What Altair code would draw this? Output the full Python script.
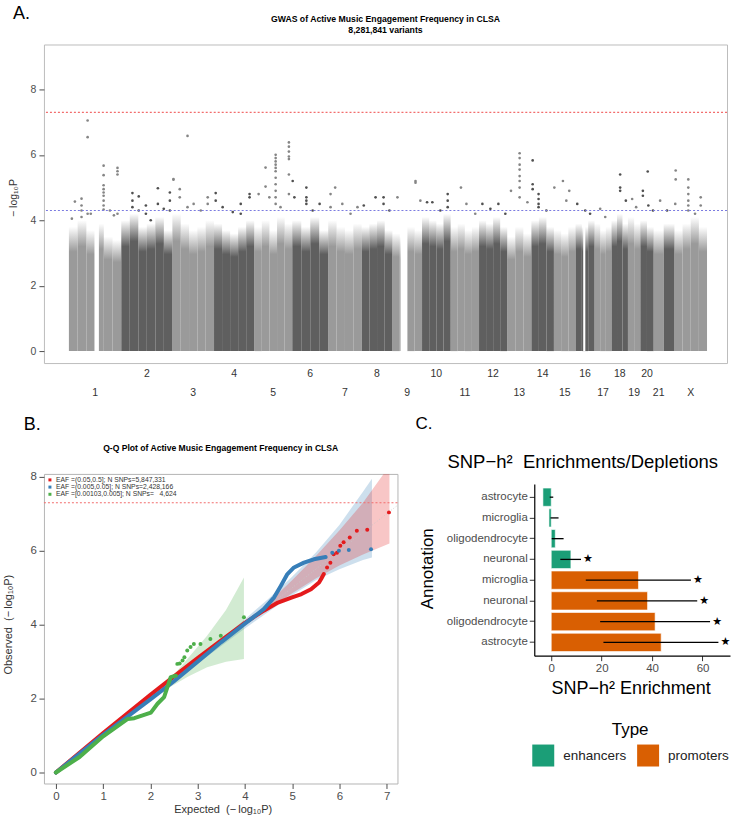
import altair as alt
import pandas as pd

FONT = "Liberation Sans"
SYMBOL_FONT = "DejaVu Sans"

# ================= Panel A: Manhattan plot =================
PANEL_A = "A."
MANHATTAN_TITLE = "GWAS of Active Music Engagement Frequency in CLSA"
MANHATTAN_SUBTITLE = "8,281,841 variants"
MANHATTAN_YTITLE = "\u2212 log\u2081\u2080P"
CHROMS = ["1", "2", "3", "4", "5", "6", "7", "8", "9", "10", "11", "12",
          "13", "14", "15", "16", "17", "18", "19", "20", "21", "22", "X"]
CHROM_LEN_MB = [249, 243, 198, 191, 181, 171, 159, 146, 141, 136, 135, 134,
                115, 107, 103, 90, 81, 78, 59, 63, 48, 51, 155]
CHROM_LABELS = ["1", "2", "3", "4", "5", "6", "7", "8", "9", "10", "11", "12",
                "13", "14", "15", "16", "17", "18", "19", "20", "21", "", "X"]
# upper edge of the dense cloud of SNPs, per chromosome sub-segment
CLOUD_TOPS = [
    [3.8, 4.0, 3.7, 3.9, 3.5, 3.4],
    [4.0, 4.2, 3.8, 3.9, 4.1, 3.7],
    [4.2, 3.9, 3.7, 3.8, 4.0],
    [3.9, 3.7, 3.6, 3.8, 4.0],
    [3.8, 4.0, 3.7, 4.1, 3.9],
    [4.0, 3.8, 4.1, 3.7],
    [4.0, 3.8, 3.7, 3.9],
    [3.8, 3.9, 4.0, 3.7],
    [3.6, 3.5, 3.8, 3.7],
    [4.1, 4.0, 3.9, 4.2],
    [3.8, 3.9, 3.7, 3.8],
    [4.0, 3.9, 4.1, 3.8],
    [3.5, 3.8, 3.6],
    [4.0, 4.1, 3.8],
    [3.7, 3.6, 3.8],
    [3.9, 3.8, 4.0],
    [3.9, 3.7, 3.8],
    [4.0, 4.2, 3.9],
    [4.1, 3.9],
    [4.0, 3.8],
    [3.7],
    [3.9],
    [3.7, 3.9, 4.1, 3.8],
]
GAP_CHROM = ["1", "9", "16"]
GAP_START_MB = [121.5, 38.8, 36.3]
GAP_END_MB = [142.6, 70.9, 46.4]
# (chromosome, position in Mb, -log10 P values of the SNPs standing out)
PEAKS = [
    ("1", 14, [4.05]), ("1", 28.5, [4.57]), ("1", 60, [4.66, 4.45, 4.3, 4.1]),
    ("1", 89, [7.05, 6.54, 4.2]), ("1", 104, [4.2]),
    ("1", 165, [5.67, 5.38, 5.07, 4.95, 4.85, 4.75, 4.6, 4.45, 4.33]),
    ("1", 195, [4.3]), ("1", 214, [4.15]), ("1", 231, [5.6, 5.5, 5.4, 4.2]),
    ("2", 53, [4.83, 4.6, 4.4]), ("2", 83, [4.73, 4.3]), ("2", 117, [4.45, 4.2]),
    ("2", 140, [4.0]), ("2", 174, [4.98, 4.5]), ("2", 202, [4.35]),
    ("2", 231, [4.85, 4.6, 4.3]),
    ("3", 5, [5.26, 5.24]), ("3", 35, [4.95, 4.7]), ("3", 72, [6.58, 4.4]),
    ("3", 101, [4.5]), ("3", 135, [4.3]), ("3", 168, [4.7, 4.5]),
    ("4", 8, [4.83, 4.6]), ("4", 41, [4.4]), ("4", 89, [4.25]),
    ("4", 127, [4.5, 4.2]), ("4", 169, [4.8, 4.7]),
    ("5", 21, [4.8]), ("5", 54, [5.61, 5.03]), ("5", 72, [4.7]),
    ("5", 102, [6.0, 5.9, 5.8, 5.7, 5.6, 5.5, 5.3, 5.1, 4.9, 4.7, 4.5]),
    ("5", 125, [4.4]), ("5", 165, [6.38, 6.25, 6.1, 5.95, 5.87, 5.4, 4.8]),
    ("6", 2, [5.2]), ("6", 10, [4.7]), ("6", 67, [5.0, 4.7, 4.6, 4.5]),
    ("6", 97, [4.3]), ("6", 130, [4.5]),
    ("7", 11, [4.8, 4.4]), ("7", 33, [5.0]), ("7", 67, [4.5]), ("7", 106, [4.2]),
    ("7", 139, [4.4]),
    ("8", 10, [4.45]), ("8", 66, [4.7]), ("8", 104, [4.7, 4.5]), ("8", 132, [4.3]),
    ("9", 24, [4.7]), ("9", 110, [5.2, 5.15]), ("9", 133, [4.6]),
    ("10", 24, [4.55]), ("10", 49, [4.55]), ("10", 87, [4.3]),
    ("10", 122, [4.8, 4.6, 4.4]),
    ("11", 49, [5.0]), ("11", 75, [4.5]), ("11", 117, [4.2]),
    ("12", 16, [4.5]), ("12", 54, [4.35]), ("12", 92, [4.5]), ("12", 125, [4.2]),
    ("13", 18, [4.9]), ("13", 59, [6.05, 5.9, 5.7, 5.55, 5.35, 5.2, 5.0, 4.7]),
    ("13", 96, [4.55]),
    ("14", 6, [5.83, 5.1, 4.95]), ("14", 34, [4.8, 4.65, 4.5, 4.4]), ("14", 71, [4.3]),
    ("15", 2, [5.0]), ("15", 43, [5.2]), ("15", 59, [4.6]), ("15", 73, [4.9]),
    ("16", 8, [4.5]), ("16", 46, [4.3]), ("16", 69, [4.2]),
    ("17", 27, [4.35]), ("17", 51, [4.1]),
    ("18", 41, [5.4, 5.0, 4.9]), ("18", 68, [4.6]),
    ("19", 20, [4.65]), ("19", 39, [4.4]),
    ("20", 12, [4.9, 4.75]), ("20", 35, [5.49]), ("20", 38, [4.45]), ("20", 60, [4.3]),
    ("21", 31, [4.6]), ("22", 16, [4.3]),
    ("X", 4, [4.5]), ("X", 6, [5.52, 5.25]), ("X", 66, [5.25, 5.0, 4.8, 4.6, 4.45, 4.3]),
    ("X", 98, [4.2]), ("X", 125, [4.7, 4.45]),
]
GENOME_WIDE = 7.3
SUGGESTIVE = 4.3

# ================= Panel B: Q-Q plot =================
PANEL_B = "B."
QQ_TITLE = "Q-Q Plot of Active Music Engagement Frequency in CLSA"
QQ_XTITLE = "Expected\u00a0\u00a0(\u2212\u2009log\u2081\u2080P)"
QQ_YTITLE = "Observed\u00a0\u00a0(\u2212\u2009log\u2081\u2080P)"
QQ_LABELS = ["EAF =(0.05,0.5]; N SNPs=5,847,331",
             "EAF =(0.005,0.05]; N SNPs=2,428,166",
             "EAF =[0.00103,0.005]; N SNPs=\u00a0\u00a0\u00a04,624"]
QQ_COLORS = ["#e41a1c", "#377eb8", "#4daf4a"]
DIAG = [0, 7.23]

RED_X = [0, 1.0, 2.0, 2.5, 3.0, 3.5, 4.0, 4.4, 4.7, 5.0, 5.2, 5.4, 5.57, 5.62, 5.67]
RED_Y = [0, 1.07, 2.1, 2.6, 3.1, 3.58, 4.05, 4.38, 4.6, 4.74, 4.83, 4.96, 5.14, 5.25, 5.37]
RED_PX = [5.74, 5.81, 5.88, 5.95, 6.02, 6.09, 6.22, 6.37, 6.59, 7.05]
RED_PY = [5.55, 5.68, 5.91, 5.95, 6.14, 6.23, 6.36, 6.54, 6.57, 7.04]
RED_BAND_X = [4.4, 5.0, 5.5, 6.0, 6.5, 7.06]
RED_BAND_LO = [4.33, 4.85, 5.25, 5.6, 5.9, 6.2]
RED_BAND_HI = [4.47, 5.2, 5.85, 6.55, 7.3, 8.3]

BLUE_X = [0, 1.0, 2.0, 2.5, 3.0, 3.5, 4.0, 4.4, 4.62, 4.76, 4.9, 5.04, 5.25, 5.46, 5.71]
BLUE_Y = [0, 1.02, 1.98, 2.47, 3.0, 3.53, 4.03, 4.42, 4.74, 5.05, 5.37, 5.55, 5.68, 5.77, 5.83]
BLUE_PX = [5.85, 5.99, 6.2, 6.67]
BLUE_PY = [5.95, 6.0, 6.02, 6.04]
BLUE_BAND_X = [3.0, 4.0, 4.5, 5.0, 5.5, 6.0, 6.5, 6.69]
BLUE_BAND_LO = [2.95, 3.9, 4.35, 4.8, 5.2, 5.5, 5.75, 5.82]
BLUE_BAND_HI = [3.05, 4.15, 4.7, 5.3, 5.95, 6.7, 7.6, 7.95]

GREEN_X = [0, 0.5, 1.0, 1.52, 1.66, 2.01, 2.15, 2.29, 2.36, 2.43, 2.54]
GREEN_Y = [0, 0.42, 0.98, 1.45, 1.47, 1.62, 1.86, 2.04, 2.31, 2.58, 2.62]
GREEN_PX = [2.57, 2.62, 2.68, 2.72, 2.78, 2.85, 2.92, 3.06, 3.27, 3.49, 3.98]
GREEN_PY = [2.94, 2.95, 3.03, 3.12, 3.30, 3.40, 3.48, 3.48, 3.61, 3.70, 4.20]
GREEN_BAND_X = [2.4, 2.8, 3.2, 3.6, 3.98]
GREEN_BAND_LO = [2.3, 2.6, 2.85, 3.0, 3.07]
GREEN_BAND_HI = [2.5, 3.1, 3.7, 4.4, 5.28]

# ================= Panel C: enrichment bars =================
PANEL_C = "C."
C_TITLE = "SNP\u2212h\u00b2\u00a0 Enrichments/Depletions"
C_XTITLE = "SNP\u2212h\u00b2 Enrichment"
C_YTITLE = "Annotation"
ANNOT = ["astrocyte", "microglia", "oligodendrocyte", "neuronal",
         "microglia", "neuronal", "oligodendrocyte", "astrocyte"]
ANNOT_TYPE = ["enhancers"] * 4 + ["promoters"] * 4
ENRICH = [-3.3, -0.9, 1.6, 7.8, 34.6, 38.2, 41.2, 43.6]
ERR_LO = [-0.6, -0.3, 0.2, 3.6, 13.7, 18.1, 19.4, 20.7]
ERR_HI = [0.8, 2.9, 4.9, 11.8, 55.4, 57.9, 63.0, 66.3]
SIGNIF = [False, False, False, True, True, True, True, True]
TYPES = ["enhancers", "promoters"]
TYPE_COLORS = ["#1b9e77", "#d95f02"]


def note(text, x, y, size, weight="normal", color="black", align="center",
         baseline="middle", angle=0, font=FONT):
    kw = dict(fontSize=size, fontWeight=weight, color=color, align=align,
              baseline=baseline, font=font)
    if angle:
        kw["angle"] = angle
    return alt.Chart(pd.DataFrame({"t": [text]})).mark_text(**kw).encode(
        x=alt.value(x), y=alt.value(y), text="t:N")


def fade(color, clear):
    return alt.LinearGradient(
        gradient="linear", x1=0, y1=1, x2=0, y2=0,
        stops=[alt.GradientStop(color=color, offset=0),
               alt.GradientStop(color=color, offset=0.8),
               alt.GradientStop(color=clear, offset=1)])


# ---------- build panel A ----------
W_A, H_A = 684, 319
offsets, acc = {}, 0
for c, L in zip(CHROMS, CHROM_LEN_MB):
    offsets[c] = acc
    acc += L
shade = {c: ("light" if i % 2 == 0 else "dark") for i, c in enumerate(CHROMS)}

seg_rows = []
for c, L, tops in zip(CHROMS, CHROM_LEN_MB, CLOUD_TOPS):
    n = len(tops)
    for i, t in enumerate(tops):
        seg_rows.append({"start": offsets[c] + L * i / n, "end": offsets[c] + L * (i + 1) / n,
                         "base": 0.0, "top": t, "shade": shade[c]})
seg_df = pd.DataFrame(seg_rows)

gap_df = pd.DataFrame({"start": [offsets[c] + s for c, s in zip(GAP_CHROM, GAP_START_MB)],
                       "end": [offsets[c] + e for c, e in zip(GAP_CHROM, GAP_END_MB)],
                       "base": 0.0, "top": 4.7})

pt_rows = []
for c, pos, vals in PEAKS:
    for v in vals:
        pt_rows.append({"pos": offsets[c] + pos, "p": v, "shade": shade[c]})
pt_df = pd.DataFrame(pt_rows)

lab_df = pd.DataFrame({"center": [offsets[c] + L / 2 for c, L in zip(CHROMS, CHROM_LEN_MB)],
                       "label": CHROM_LABELS,
                       "row": ["odd" if i % 2 == 0 else "even" for i in range(len(CHROMS))]})

xA = alt.Scale(domain=[-118.7, 3129.0], nice=False, zero=False)
yA = alt.Scale(domain=[-0.366, 9.374], nice=False, zero=False)
axis_yA = alt.Axis(values=[0, 2, 4, 6, 8], title=None, grid=False, domain=False,
                   tickColor="#4d4d4d", tickSize=5, labelFont=FONT, labelFontSize=10.5,
                   labelColor="#4d4d4d", labelPadding=3)
XA = lambda f: alt.X(f, scale=xA, axis=None)
YA = lambda f: alt.Y(f, scale=yA, axis=axis_yA)

bulk_light = alt.Chart(seg_df).transform_filter(alt.datum.shade == "light").mark_rect(
    color=fade("#9a9a9a", "rgba(154,154,154,0)")).encode(
    x=XA("start:Q"), x2="end:Q", y=YA("base:Q"), y2="top:Q")
bulk_dark = alt.Chart(seg_df).transform_filter(alt.datum.shade == "dark").mark_rect(
    color=fade("#5f5f5f", "rgba(95,95,95,0)")).encode(
    x=XA("start:Q"), x2="end:Q", y=YA("base:Q"), y2="top:Q")
gaps = alt.Chart(gap_df).mark_rect(color="white").encode(
    x=XA("start:Q"), x2="end:Q", y=YA("base:Q"), y2="top:Q")
points_A = alt.Chart(pt_df).mark_circle(size=7, opacity=1).encode(
    x=XA("pos:Q"), y=YA("p:Q"),
    color=alt.Color("shade:N", scale=alt.Scale(domain=["light", "dark"],
                                               range=["#858585", "#505050"]), legend=None))
gws_A = alt.Chart(pd.DataFrame({"y": [GENOME_WIDE]})).mark_rule(
    color="#f26d6d", strokeDash=[2, 2], strokeWidth=1.1).encode(y=YA("y:Q"))
sugg_A = alt.Chart(pd.DataFrame({"y": [SUGGESTIVE]})).mark_rule(
    color="#7b7be0", strokeDash=[2, 2], strokeWidth=1.1).encode(y=YA("y:Q"))
lab_even = alt.Chart(lab_df).transform_filter(alt.datum.row == "even").mark_text(
    font=FONT, fontSize=10.5, color="#333333").encode(
    x=XA("center:Q"), y=alt.value(H_A + 11), text="label:N")
lab_odd = alt.Chart(lab_df).transform_filter(alt.datum.row == "odd").mark_text(
    font=FONT, fontSize=10.5, color="#333333").encode(
    x=XA("center:Q"), y=alt.value(H_A + 30), text="label:N")
anchor = alt.Chart(pd.DataFrame({"a": [0]})).mark_rule(opacity=0).encode(
    x=alt.value(-43), x2=alt.value(-43), y=alt.value(-43), y2=alt.value(-41))

manhattan = alt.layer(
    bulk_light, bulk_dark, gaps, points_A, gws_A, sugg_A, lab_even, lab_odd,
    note(PANEL_A, -31, -30.5, 18, align="left"),
    note(MANHATTAN_TITLE, W_A / 2, -26, 8.7, weight="bold"),
    note(MANHATTAN_SUBTITLE, W_A / 2, -15, 8.7, weight="bold"),
    note(MANHATTAN_YTITLE, -29.7, 153.7, 10.5, color="#333333", angle=270),
    anchor,
).properties(width=W_A, height=H_A, view=alt.ViewBackground(stroke="#bdbdbd", strokeWidth=1))

# ---------- build panel B ----------
W_B, H_B = 354, 310
xB = alt.Scale(domain=[-0.2537, 7.23], nice=False, zero=False)
yB = alt.Scale(domain=[-0.297, 8.081], nice=False, zero=False)
axis_xB = alt.Axis(values=[0, 1, 2, 3, 4, 5, 6, 7], title=None, grid=False, domain=False,
                   tickColor="#4d4d4d", tickSize=5, labelFont=FONT, labelFontSize=11.5,
                   labelColor="#4d4d4d", labelPadding=2)
axis_yB = alt.Axis(values=[0, 2, 4, 6, 8], title=None, grid=False, domain=False,
                   tickColor="#4d4d4d", tickSize=5, labelFont=FONT, labelFontSize=11.5,
                   labelColor="#4d4d4d", labelPadding=2.5)
XB = lambda f: alt.X(f, scale=xB, axis=axis_xB)
YB = lambda f: alt.Y(f, scale=yB, axis=axis_yB)


def qq_band(xs, lo, hi, color):
    return alt.Chart(pd.DataFrame({"x": xs, "lo": lo, "hi": hi})).mark_area(
        color=color, opacity=0.25, clip=True).encode(x=XB("x:Q"), y=YB("lo:Q"), y2="hi:Q")


def qq_line(xs, ys, color):
    return alt.Chart(pd.DataFrame({"x": xs, "y": ys})).mark_line(
        color=color, strokeWidth=4, strokeCap="round", strokeJoin="round", clip=True).encode(
        x=XB("x:Q"), y=YB("y:Q"))


def qq_points(xs, ys, color):
    return alt.Chart(pd.DataFrame({"x": xs, "y": ys})).mark_circle(
        color=color, size=16, opacity=1, clip=True).encode(x=XB("x:Q"), y=YB("y:Q"))


diag = alt.Chart(pd.DataFrame({"x": DIAG, "y": DIAG})).mark_line(
    color="#c8c8c8", strokeDash=[1, 2], strokeWidth=0.8, clip=True).encode(x=XB("x:Q"), y=YB("y:Q"))
gws_B = alt.Chart(pd.DataFrame({"y": [GENOME_WIDE]})).mark_rule(
    color="#f26d6d", strokeDash=[2, 2], strokeWidth=1.1).encode(y=YB("y:Q"))

legend_B = []
for i, (lab, col) in enumerate(zip(QQ_LABELS, QQ_COLORS)):
    legend_B.append(alt.Chart(pd.DataFrame({"a": [0]})).mark_square(
        color=col, size=9, opacity=1).encode(x=alt.value(6), y=alt.value(6 + 7.2 * i)))
    legend_B.append(note(lab, 12, 6 + 7.2 * i, 6.8, color="#333333", align="left"))

qq = alt.layer(
    qq_band(BLUE_BAND_X, BLUE_BAND_LO, BLUE_BAND_HI, QQ_COLORS[1]),
    qq_band(GREEN_BAND_X, GREEN_BAND_LO, GREEN_BAND_HI, QQ_COLORS[2]),
    qq_band(RED_BAND_X, RED_BAND_LO, RED_BAND_HI, QQ_COLORS[0]),
    diag, gws_B,
    qq_line(RED_X, RED_Y, QQ_COLORS[0]),
    qq_line(BLUE_X, BLUE_Y, QQ_COLORS[1]),
    qq_line(GREEN_X, GREEN_Y, QQ_COLORS[2]),
    qq_points(RED_PX, RED_PY, QQ_COLORS[0]),
    qq_points(BLUE_PX, BLUE_PY, QQ_COLORS[1]),
    qq_points(GREEN_PX, GREEN_PY, QQ_COLORS[2]),
    *legend_B,
    note(PANEL_B, -20.3, -48.5, 18, align="left"),
    note(QQ_TITLE, W_B / 2, -26, 8.6, weight="bold"),
    note(QQ_YTITLE, -34.7, 151, 11, color="#333333", angle=270),
    note(QQ_XTITLE, 179.5, 337, 11, color="#333333"),
).properties(width=W_B, height=H_B, view=alt.ViewBackground(stroke="#b5b5b5", strokeWidth=1))

# ---------- build panel C ----------
W_C, H_C = 196, 182
bar_df = pd.DataFrame({"annotation": ANNOT, "type": ANNOT_TYPE, "enrich": ENRICH,
                       "lo": ERR_LO, "hi": ERR_HI, "sig": SIGNIF})
bar_df["key"] = [t + "|" + a for t, a in zip(ANNOT_TYPE, ANNOT)]
KEY_ORDER = list(bar_df["key"])

xC = alt.Scale(domain=[-6.73, 70.9], nice=False, zero=False)
yC = alt.Scale(domain=KEY_ORDER, range=[10, H_C], paddingInner=0.12, paddingOuter=0.2)
axis_xC = alt.Axis(values=[0, 20, 40, 60], title=None, grid=False, domainColor="black",
                   domainWidth=1.2, tickColor="#333333", tickSize=5, labelFont=FONT,
                   labelFontSize=11.5, labelColor="#4d4d4d", labelPadding=2)
axis_yC = alt.Axis(title=None, grid=False, labelExpr="split(datum.value, '|')[1]",
                   domainColor="black", domainWidth=1.2, tickColor="#333333", tickSize=5,
                   labelFont=FONT, labelFontSize=11.5, labelColor="#4d4d4d", labelPadding=2)
XC = lambda f: alt.X(f, scale=xC, axis=axis_xC)
YC = lambda f: alt.Y(f, scale=yC, axis=axis_yC, sort=KEY_ORDER)

bars = alt.Chart(bar_df).mark_bar(stroke="white", strokeWidth=0.6).encode(
    x=XC("enrich:Q"), x2=alt.datum(0), y=YC("key:N"),
    color=alt.Color("type:N", scale=alt.Scale(domain=TYPES, range=TYPE_COLORS),
                    legend=alt.Legend(title="Type", orient="none", legendX=-2, legendY=248,
                                      direction="horizontal", titleAnchor="middle",
                                      titleFont=FONT, titleFontSize=17, titleFontWeight="normal",
                                      titleColor="black", titlePadding=6, symbolType="square",
                                      symbolSize=484, symbolStrokeWidth=0, symbolOpacity=1,
                                      labelFont=FONT, labelFontSize=13.5, labelColor="#222222",
                                      labelOffset=9, columnPadding=10)))
errs = alt.Chart(bar_df).mark_rule(color="black", strokeWidth=1.3).encode(
    x=XC("lo:Q"), x2="hi:Q", y=YC("key:N"))
stars = alt.Chart(bar_df).transform_filter(alt.datum.sig).mark_text(
    text="\u2605", dx=7, font=SYMBOL_FONT, fontSize=11, color="black").encode(
    x=XC("hi:Q"), y=YC("key:N"))

bar = alt.layer(
    bars, errs, stars,
    note(PANEL_C, -119, -49.5, 17, align="left"),
    note(C_TITLE, 48.5, -11.5, 18.5),
    note(C_YTITLE, -106, 95, 17, angle=270),
    note(C_XTITLE, 97, 215, 18),
).properties(width=W_C, height=H_C)

bottom = alt.hconcat(qq, bar, spacing=137, bounds="flush").resolve_scale(color="independent")
chart = alt.vconcat(manhattan, bottom, spacing=111, bounds="flush",
                    padding=0, background="white").resolve_scale(
    color="independent").configure_view(stroke="transparent")

chart.save("out.html", embed_options={"renderer": "svg", "actions": False})
